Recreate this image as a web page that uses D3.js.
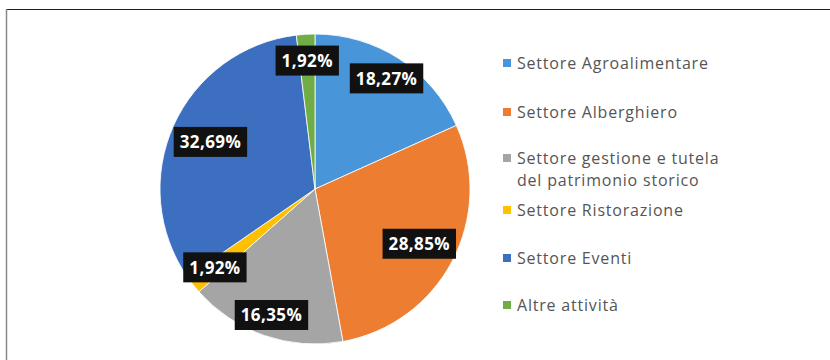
<!DOCTYPE html>
<html>
<head>
<meta charset="utf-8">
<script src="https://cdn.jsdelivr.net/npm/d3@7"></script>
<style>
  html, body { margin: 0; padding: 0; background: #fff; }
  svg { display: block; }
</style>
</head>
<body>
<svg id="chart" width="830" height="360"></svg>
<script>
// Sector shares (percent), clockwise from 12 o'clock
const sectors = [
  "Settore Agroalimentare",
  "Settore Alberghiero",
  "Settore gestione e tutela del patrimonio storico",
  "Settore Ristorazione",
  "Settore Eventi",
  "Altre attività"
];
const shares = [18.27, 28.85, 16.35, 1.92, 32.69, 1.92];
const colors = ["#4895DA", "#ED7D31", "#A5A5A5", "#FFC000", "#3D6FC0", "#70AD47"];
const legendLines = [
  ["Settore Agroalimentare"],
  ["Settore Alberghiero"],
  ["Settore gestione e tutela", "del patrimonio storico"],
  ["Settore Ristorazione"],
  ["Settore Eventi"],
  ["Altre attività"]
];

const svg = d3.select("#chart");
const W = 830, H = 360;

// Frame lines
svg.append("line").attr("x1", 6).attr("x2", W).attr("y1", 9.5).attr("y2", 9.5)
  .attr("stroke", "#222").attr("stroke-width", 1.2);
svg.append("line").attr("x1", 6.5).attr("x2", 6.5).attr("y1", 9).attr("y2", H)
  .attr("stroke", "#888").attr("stroke-width", 1.5);

const cx = 315, cy = 189, R = 155;
const g = svg.append("g").attr("transform", `translate(${cx},${cy})`);

const pie = d3.pie().sort(null).value(d => d);
const arcs = pie(shares);
const arc = d3.arc().innerRadius(0).outerRadius(R);

g.selectAll("path.slice").data(arcs).enter().append("path")
  .attr("class", "slice")
  .attr("d", arc)
  .attr("fill", (d, i) => colors[i])
  .attr("stroke", "#fff")
  .attr("stroke-width", 0.8);

// Data labels: best-fit style radial placement inside each slice
const labelFactor = [0.85, 0.76, 0.86, 0.82, 0.74, 0.83];
const fmt = v => v.toFixed(2).replace(".", ",") + "%";

arcs.forEach((d, i) => {
  const mid = (d.startAngle + d.endAngle) / 2;
  const r = R * labelFactor[i];
  const x = Math.sin(mid) * r, y = -Math.cos(mid) * r;
  const lg = g.append("g").attr("transform", `translate(${x},${y})`);
  const rect = lg.append("rect").attr("fill", "#111");
  const t = lg.append("text")
    .attr("text-anchor", "middle")
    .attr("dominant-baseline", "central")
    .attr("font-family", "'Open Sans', sans-serif")
    .attr("font-weight", "bold")
    .attr("font-size", 17)
    .attr("letter-spacing", 0.4)
    .attr("fill", "#fff")
    .text(fmt(shares[i]));
  const bb = t.node().getBBox();
  rect.attr("x", bb.x - 6).attr("y", -15).attr("width", bb.width + 12).attr("height", 30);
});

// Legend
const lx = 503, rowY = [63, 112, 158, 210, 258, 305];
const leg = svg.append("g");
legendLines.forEach((lines, i) => {
  leg.append("rect")
    .attr("x", lx).attr("y", rowY[i] - 4).attr("width", 8).attr("height", 8)
    .attr("fill", colors[i]);
  lines.forEach((s, j) => {
    leg.append("text")
      .attr("x", lx + 14).attr("y", rowY[i] + j * 22)
      .attr("dominant-baseline", "central")
      .attr("font-family", "'Open Sans', sans-serif")
      .attr("font-size", 16)
      .attr("letter-spacing", 0.8)
      .attr("fill", "#555")
      .text(s);
  });
});
</script>
</body>
</html>
